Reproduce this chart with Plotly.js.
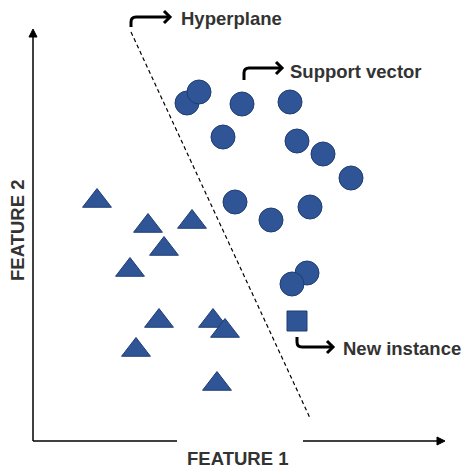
<!DOCTYPE html>
<html>
<head>
<meta charset="utf-8">
<script src="https://cdn.plot.ly/plotly-3.0.1.min.js"></script>
<style>html,body{margin:0;padding:0;background:#fff;}#chart{width:472px;height:475px;}</style>
</head>
<body>
<div id="chart"></div>
<script>
// Class A (circles) - feature 1 / feature 2
const circleX = [187, 199, 242, 290, 223, 297, 323, 351, 235, 271, 310, 307, 292];
const circleY = [372, 383, 371, 373, 338, 334, 321, 297, 273, 255, 268, 202, 191];
// Class B (triangles)
const triX = [97, 148, 192, 164, 130, 159, 213, 225, 136, 217];
const triY = [274, 249, 253, 226, 205, 154, 154, 144, 125, 91];
// New instance (square)
const newX = [297];
const newY = [154];
// Hyperplane end points
const hyperX = [131, 310];
const hyperY = [443, 57];

const fill = '#2F5597';
const edge = '#1F3C73';
const textCol = '#333333';
const font = {family: 'Liberation Sans, Arial, sans-serif', size: 18.5, color: textCol, weight: 'bold'};

const traces = [
  {x: hyperX, y: hyperY, mode: 'lines', line: {color: '#000', width: 1.2, dash: '4px,3px'}, hoverinfo: 'skip'},
  {x: triX, y: triY, mode: 'markers', marker: {symbol: 'triangle-up', size: 25, color: fill, line: {color: edge, width: 1}}},
  {x: circleX, y: circleY, mode: 'markers', marker: {symbol: 'circle', size: 24, color: fill, line: {color: edge, width: 1}}},
  {x: newX, y: newY, mode: 'markers', marker: {symbol: 'square', size: 20, color: fill, line: {color: edge, width: 1}}}
];

const blk = {color: '#000', width: 1.5};
const arr = {color: '#000', width: 3};
const shapes = [
  // axes
  {type: 'line', x0: 33, y0: 34, x1: 33, y1: 441, line: blk},
  {type: 'path', path: 'M29,438 L33,446 L37,438 Z', fillcolor: '#000', line: {color: '#000', width: 1}},
  {type: 'line', x0: 33, y0: 34, x1: 177, y1: 34, line: blk},
  {type: 'line', x0: 303, y0: 34, x1: 438, y1: 34, line: blk},
  {type: 'path', path: 'M437,38 L445,34 L437,30 Z', fillcolor: '#000', line: {color: '#000', width: 1}},
  // elbow arrows
  {type: 'path', path: 'M131,448 L131,453 Q131,458 136,458 L170,458', line: arr},
  {type: 'path', path: 'M164,464 L170,458 L164,452', line: arr},
  {type: 'path', path: 'M244,395 L244,402 Q244,407 249,407 L282,407', line: arr},
  {type: 'path', path: 'M276,413 L282,407 L276,401', line: arr},
  {type: 'path', path: 'M297,138 L297,133 Q297,128 302,128 L333,128', line: arr},
  {type: 'path', path: 'M327,134 L333,128 L327,122', line: arr}
];

const annotations = [
  {x: 179, y: 457, text: 'Hyperplane', xanchor: 'left', yanchor: 'middle', showarrow: false, font: font},
  {x: 288, y: 404, text: 'Support vector', xanchor: 'left', yanchor: 'middle', showarrow: false, font: font},
  {x: 341, y: 127, text: 'New instance', xanchor: 'left', yanchor: 'middle', showarrow: false, font: font},
  {x: 237, y: 17, text: 'FEATURE 1', xanchor: 'center', yanchor: 'middle', showarrow: false, font: font},
  {x: 17, y: 244, text: 'FEATURE 2', textangle: -90, xanchor: 'center', yanchor: 'middle', showarrow: false, font: font}
];

const layout = {
  width: 472, height: 475,
  margin: {l: 0, r: 0, t: 0, b: 0},
  paper_bgcolor: '#fff', plot_bgcolor: '#fff',
  showlegend: false,
  xaxis: {range: [0, 472], visible: false, fixedrange: true},
  yaxis: {range: [0, 475], visible: false, fixedrange: true},
  shapes: shapes,
  annotations: annotations
};

Plotly.newPlot('chart', traces, layout, {staticPlot: true, displayModeBar: false});
</script>
</body>
</html>
